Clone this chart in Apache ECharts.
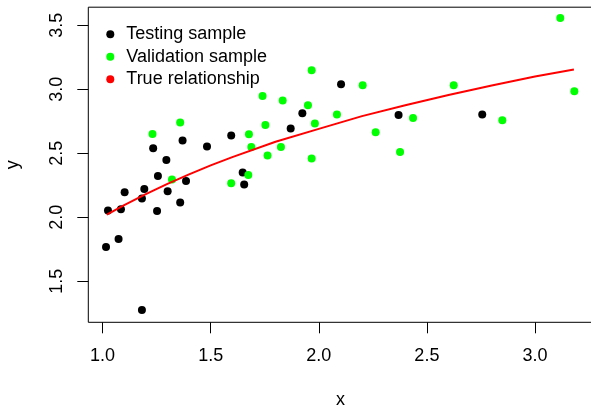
<!DOCTYPE html>
<html>
<head>
<meta charset="utf-8">
<script src="https://cdn.jsdelivr.net/npm/echarts@6/dist/echarts.min.js"></script>
<style>html,body{margin:0;padding:0;background:#fff}#c{width:591px;height:409px}</style>
</head>
<body>
<div id="c"></div>
<script>
var testingX = [1.016,1.025,1.074,1.085,1.102,1.182,1.193,1.182,1.234,1.252,1.256,1.295,1.301,1.359,1.370,1.386,1.483,1.595,1.648,1.655,1.870,1.924,2.103,2.369,2.756];
var testingY = [1.768,2.052,1.830,2.063,2.195,2.146,2.221,1.276,2.539,2.049,2.323,2.448,2.203,2.115,2.600,2.284,2.552,2.638,2.349,2.255,2.693,2.812,3.039,2.799,2.802];
var validX = [1.231,1.321,1.359,1.595,1.674,1.677,1.688,1.740,1.753,1.763,1.825,1.833,1.950,1.967,1.967,1.982,2.084,2.203,2.263,2.376,2.436,2.624,2.849,3.117,3.182];
var validY = [2.651,2.294,2.740,2.266,2.330,2.648,2.549,2.948,2.721,2.482,2.549,2.912,2.875,3.148,2.458,2.732,2.802,3.031,2.664,2.510,2.776,3.031,2.758,3.557,2.984];
var trueX = [1.02,1.1,1.2,1.3,1.4,1.5,1.6,1.8,2.0,2.2,2.4,2.6,2.8,3.0,3.18];
var trueY = [2.02,2.095,2.18,2.26,2.335,2.405,2.47,2.59,2.69,2.79,2.875,2.955,3.03,3.10,3.155];
var xTicks = [1.0,1.5,2.0,2.5,3.0];
var yTicks = [1.5,2.0,2.5,3.0,3.5];
var seriesNames = ['Testing sample','Validation sample','True relationship'];

function zip(a,b){return a.map(function(v,i){return [v,b[i]];});}
var FONT = '"Liberation Sans", Arial, sans-serif';
var chart = echarts.init(document.getElementById('c'), null, {renderer:'canvas'});
chart.setOption({
  animation:false,
  backgroundColor:'#fff',
  grid:{left:88.3, top:7.2, right:-1.5, bottom:86.7, show:true, borderColor:'#000', borderWidth:1, backgroundColor:'transparent', containLabel:false, outerBoundsMode:'none'},
  legend:{
    orient:'vertical', left:101.3, top:20.3, itemWidth:8, itemHeight:8, itemGap:4.5,
    data:seriesNames.map(function(n){return {name:n, icon:'circle'};}),
    textStyle:{fontFamily:FONT, fontSize:18, lineHeight:18, color:'#000', padding:[0,0,0,7]}
  },
  xAxis:{
    type:'value', min:0.934, max:3.266,
    name:'x', nameLocation:'middle', nameGap:69,
    nameTextStyle:{fontFamily:FONT, fontSize:18, color:'#000', lineHeight:18},
    axisLine:{show:false},
    splitLine:{show:false},
    axisTick:{show:true, inside:false, length:11, lineStyle:{color:'#000', width:1}, customValues:xTicks},
    axisLabel:{fontFamily:FONT, fontSize:18, lineHeight:18, color:'#000', margin:25, customValues:xTicks, formatter:function(v){return v.toFixed(1);}}
  },
  yAxis:{
    type:'value', min:1.179, max:3.641,
    name:'y', nameLocation:'middle', nameGap:66, nameRotate:90,
    nameTextStyle:{fontFamily:FONT, fontSize:18, color:'#000', lineHeight:18},
    axisLine:{show:false},
    splitLine:{show:false},
    axisTick:{show:true, inside:false, length:11, lineStyle:{color:'#000', width:1}, customValues:yTicks},
    axisLabel:{fontFamily:FONT, fontSize:18, lineHeight:18, color:'#000', margin:22, rotate:90, customValues:yTicks, formatter:function(v){return v.toFixed(1);}}
  },
  series:[
    {name:seriesNames[0], type:'scatter', data:zip(testingX,testingY), symbol:'circle', symbolSize:8, itemStyle:{color:'#000', opacity:1}, z:3},
    {name:seriesNames[1], type:'scatter', data:zip(validX,validY), symbol:'circle', symbolSize:8, itemStyle:{color:'#00ff00', opacity:1}, z:3},
    {name:seriesNames[2], type:'line', data:zip(trueX,trueY), showSymbol:false, symbol:'circle', lineStyle:{color:'#ff0000', width:2}, itemStyle:{color:'#ff0000'}, z:4}
  ]
});
</script>
</body>
</html>
